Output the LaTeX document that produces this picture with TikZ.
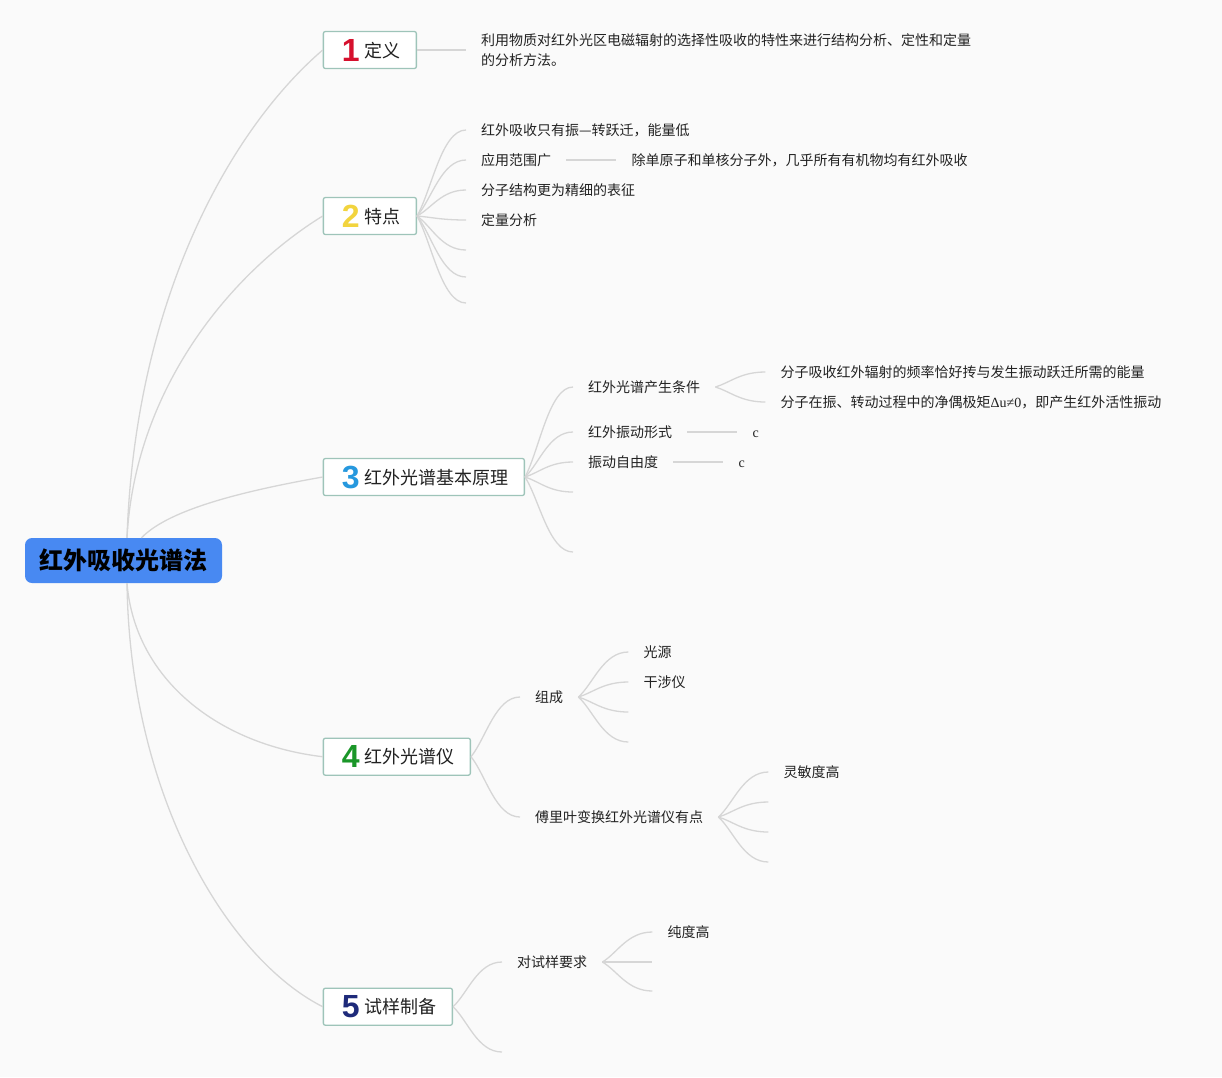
\documentclass[tikz,border=0pt]{standalone}
\usepackage{fontspec}
\setmainfont{Noto Sans CJK SC}
\newfontfamily\numfont{Liberation Sans}
\newfontfamily\latinserif{Liberation Serif}
\usepackage{xcolor}
\usetikzlibrary{positioning, calc}

\definecolor{bgpaper}{RGB}{250,250,250}
\definecolor{rootblue}{RGB}{72,137,242}
\definecolor{boxline}{RGB}{158,196,185}
\definecolor{linkgrey}{RGB}{214,214,214}
\definecolor{inkdark}{RGB}{34,34,34}
\definecolor{numred}{RGB}{214,16,45}
\definecolor{numyellow}{RGB}{242,212,62}
\definecolor{numblue}{RGB}{38,152,222}
\definecolor{numgreen}{RGB}{26,150,40}
\definecolor{numnavy}{RGB}{30,42,122}

\newcommand{\topicnum}[2]{\makebox[24pt]{\raisebox{-4pt}{\numfont\bfseries\fontsize{32}{32}\selectfont\color{#1}#2}}\hspace{2pt}}

\tikzset{
  rootbox/.style={fill=rootblue, rounded corners=7pt, minimum width=197pt, minimum height=45pt, inner sep=0pt, text=black, font=\fontsize{24}{24}\selectfont\bfseries},
  topicbox/.style={draw=boxline, line width=1.3pt, fill=white, rounded corners=2pt, minimum height=37pt, inner xsep=15.5pt, inner ysep=0pt, anchor=west, text=inkdark, font=\fontsize{18}{18}\selectfont},
  leaf/.style={inner xsep=15pt, inner ysep=2pt, text height=13pt, text depth=2pt, anchor=west, text=inkdark, font=\fontsize{14}{20}\selectfont},
  link/.style={draw=linkgrey, line width=1.3pt},
  branch/.style={to path={.. controls ($(\tikztostart)!0.3!(\tikztotarget)$) and ($(\tikztostart |- \tikztotarget)!0.5!(\tikztotarget)$) .. (\tikztotarget)}}
}

\begin{document}
\begin{tikzpicture}[x=1pt, y=-1pt]
    \fill[bgpaper] (0,0) rectangle (1222,1077);
    \useasboundingbox (0,0) rectangle (1222,1077);

    \node[rootbox] (root) at (123.5,560.5) {红外吸收光谱法};
    \coordinate (rtop) at ([xshift=3.5pt]root.north);
    \coordinate (rmid) at ([xshift=18pt]root.north);
    \coordinate (rbot) at ([xshift=3.5pt]root.south);

    \node[topicbox] (b1) at (322.7,50) {\topicnum{numred}{1}定义};
    \node[topicbox] (b2) at (322.7,216) {\topicnum{numyellow}{2}特点};
    \node[topicbox] (b3) at (322.7,477) {\topicnum{numblue}{3}红外光谱基本原理};
    \node[topicbox] (b4) at (322.7,756.7) {\topicnum{numgreen}{4}红外光谱仪};
    \node[topicbox] (b5) at (322.7,1006.7) {\topicnum{numnavy}{5}试样制备};

    \draw[link] (rtop) .. controls +(8,-238) and +(-93,80) .. (b1.west);
    \draw[link] (rtop) .. controls +(8,-150) and +(-91,56) .. (b2.west);
    \draw[link] (rmid) .. controls +(25,-26) and +(-91,16) .. (b3.west);
    \draw[link] (rbot) .. controls +(8,97) and +(-103,-12) .. (b4.west);
    \draw[link] (rbot) .. controls +(3,217) and +(-93,-47) .. (b5.west);

    \node[leaf, align=left, text height=32pt] (n11) at (466,50) {利用物质对红外光区电磁辐射的选择性吸收的特性来进行结构分析、定性和定量\\的分析方法。};
    \draw[link] (b1.east) -- (n11.west);

    \node[leaf] (n21) at (466,130) {红外吸收只有振—转跃迁，能量低};
    \node[leaf] (n22) at (466,160) {应用范围广};
    \node[leaf, right=50pt of n22] (n221) {除单原子和单核分子外，几乎所有有机物均有红外吸收};
    \node[leaf] (n23) at (466,190) {分子结构更为精细的表征};
    \node[leaf] (n24) at (466,220) {定量分析};
    \coordinate (e25) at (466,250);
    \coordinate (e26) at (466,277);
    \coordinate (e27) at (466,303);
    \foreach \leafname in {n21,n22,n23,n24}
        \draw[link] (b2.east) to[branch] (\leafname.west);
    \foreach \endname in {e25,e26,e27}
        \draw[link] (b2.east) to[branch] (\endname);
    \draw[link] (n22.east) -- (n221.west);

    \node[leaf] (n31) at (573,387) {红外光谱产生条件};
    \node[leaf] (n311) at ([shift={(50,-15)}]n31.east) {分子吸收红外辐射的频率恰好抟与发生振动跃迁所需的能量};
    \node[leaf] (n312) at ([shift={(50,15)}]n31.east) {分子在振、转动过程中的净偶极矩{\latinserif Δu≠0}，即产生红外活性振动};
    \node[leaf] (n32) at (573,432) {红外振动形式};
    \node[leaf, right=50pt of n32, font=\latinserif\fontsize{14}{20}\selectfont] (n321) {c};
    \node[leaf] (n33) at (573,462) {振动自由度};
    \node[leaf, right=50pt of n33, font=\latinserif\fontsize{14}{20}\selectfont] (n331) {c};
    \coordinate (e34) at (573,492);
    \coordinate (e35) at (573,552);
    \foreach \leafname in {n31,n32,n33}
        \draw[link] (b3.east) to[branch] (\leafname.west);
    \foreach \endname in {e34,e35}
        \draw[link] (b3.east) to[branch] (\endname);
    \draw[link] (n31.east) to[branch] (n311.west);
    \draw[link] (n31.east) to[branch] (n312.west);
    \draw[link] (n32.east) -- (n321.west);
    \draw[link] (n33.east) -- (n331.west);

    \node[leaf] (n41) at (520,697) {组成};
    \node[leaf] (n411) at ([shift={(50,-45)}]n41.east) {光源};
    \node[leaf] (n412) at ([shift={(50,-15)}]n41.east) {干涉仪};
    \coordinate (e413) at ([shift={(50,15)}]n41.east);
    \coordinate (e414) at ([shift={(50,45)}]n41.east);
    \node[leaf] (n42) at (520,817) {傅里叶变换红外光谱仪有点};
    \node[leaf] (n421) at ([shift={(50,-45)}]n42.east) {灵敏度高};
    \coordinate (e422) at ([shift={(50,-15)}]n42.east);
    \coordinate (e423) at ([shift={(50,15)}]n42.east);
    \coordinate (e424) at ([shift={(50,45)}]n42.east);
    \draw[link] (b4.east) to[branch] (n41.west);
    \draw[link] (b4.east) to[branch] (n42.west);
    \draw[link] (n41.east) to[branch] (n411.west);
    \draw[link] (n41.east) to[branch] (n412.west);
    \draw[link] (n41.east) to[branch] (e413);
    \draw[link] (n41.east) to[branch] (e414);
    \draw[link] (n42.east) to[branch] (n421.west);
    \draw[link] (n42.east) to[branch] (e422);
    \draw[link] (n42.east) to[branch] (e423);
    \draw[link] (n42.east) to[branch] (e424);

    \node[leaf] (n51) at (502,962) {对试样要求};
    \node[leaf] (n511) at ([shift={(50,-30)}]n51.east) {纯度高};
    \coordinate (e512) at ([shift={(50,0)}]n51.east);
    \coordinate (e513) at ([shift={(50,29)}]n51.east);
    \coordinate (e52) at (502,1052);
    \draw[link] (b5.east) to[branch] (n51.west);
    \draw[link] (b5.east) to[branch] (e52);
    \draw[link] (n51.east) to[branch] (n511.west);
    \draw[link] (n51.east) to[branch] (e512);
    \draw[link] (n51.east) to[branch] (e513);
\end{tikzpicture}
\end{document}
